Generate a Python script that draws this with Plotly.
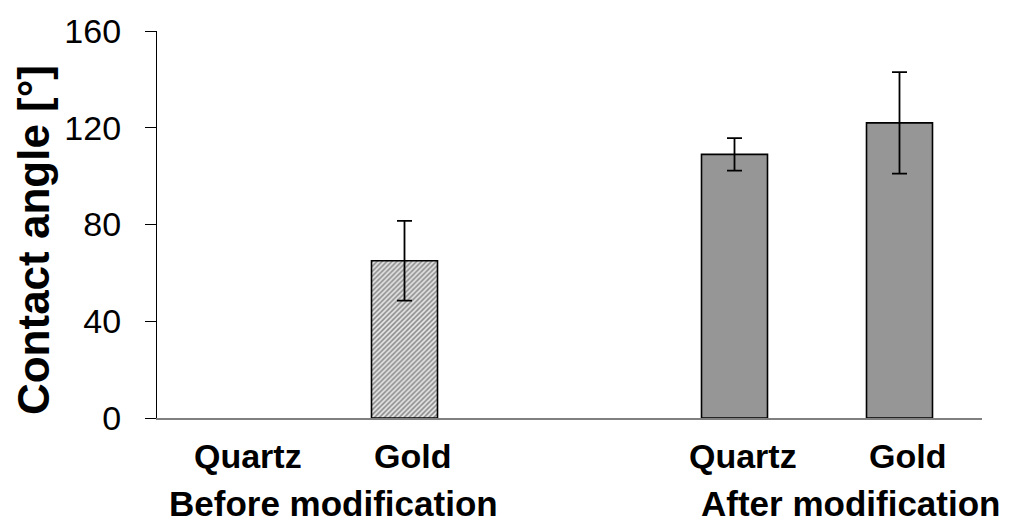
import plotly.graph_objects as go

# Contact angle measurements (degrees), mean and standard deviation
groups = ["Before modification", "After modification"]
substrates = ["Quartz", "Gold"]
before_angle = [None, 65]
before_err = [None, 16.5]
after_angle = [109, 122]
after_err = [6.7, 21]
y_ticks = [0, 40, 80, 120, 160]

# bar slots: two substrates per group with one empty slot between groups
slot_step = len(substrates) + 1
before_x = [0 * slot_step + i for i in range(len(substrates))]
after_x = [1 * slot_step + i for i in range(len(substrates))]

bar_w = 0.4
err_style = dict(type="data", visible=True, color="black", thickness=1.8, width=7.5)

fig = go.Figure()
fig.add_trace(go.Bar(
    x=before_x, y=before_angle, width=bar_w,
    marker=dict(
        color="white",
        line=dict(color="black", width=1.6),
        pattern=dict(shape="/", fgcolor="#858585", bgcolor="#e8e8e8",
                     size=3.5, solidity=0.45, fillmode="replace"),
    ),
    error_y=dict(array=before_err, **err_style),
    showlegend=False,
))
fig.add_trace(go.Bar(
    x=after_x, y=after_angle, width=bar_w,
    marker=dict(color="#969696", line=dict(color="black", width=1.6)),
    error_y=dict(array=after_err, **err_style),
    showlegend=False,
))

font_family = "Liberation Sans, Arial, sans-serif"
annotations = []
for xs in (before_x, after_x):
    for x, name in zip(xs, substrates):
        annotations.append(dict(
            x=x + 0.05, y=-0.098, xref="x", yref="paper", text=f"<b>{name}</b>",
            showarrow=False, xanchor="center", yanchor="middle",
            font=dict(family=font_family, size=34, color="black"),
        ))
group_centers = [0.57, 3.7]
for xc, g in zip(group_centers, groups):
    annotations.append(dict(
        x=xc, y=-0.222, xref="x", yref="paper", text=f"<b>{g}</b>",
        showarrow=False, xanchor="center", yanchor="middle",
        font=dict(family=font_family, size=35, color="black"),
    ))
annotations.append(dict(
    x=-0.149, y=0.46, xref="paper", yref="paper", text="<b>Contact angle [°]</b>",
    showarrow=False, textangle=-90, xanchor="center", yanchor="middle",
    font=dict(family=font_family, size=44, color="black"),
))

fig.update_layout(
    width=1010, height=524,
    margin=dict(l=157, r=28, t=26, b=106),
    paper_bgcolor="white", plot_bgcolor="white",
    barmode="overlay",
    font=dict(family=font_family, color="black"),
    annotations=annotations,
    xaxis=dict(
        range=[-0.5, 4.5], showticklabels=False, ticks="", showgrid=False,
        zeroline=False, showline=True, linecolor="#808080", linewidth=2,
    ),
    yaxis=dict(
        range=[0, 160], tickvals=y_ticks, ticks="outside", ticklen=11,
        tickcolor="black", tickwidth=1.3, showgrid=False, zeroline=False,
        showline=True, linecolor="black", linewidth=1.3,
        tickfont=dict(family=font_family, size=34, color="black"),
        ticklabelstandoff=17,
    ),
)

fig.write_html("out.html")
